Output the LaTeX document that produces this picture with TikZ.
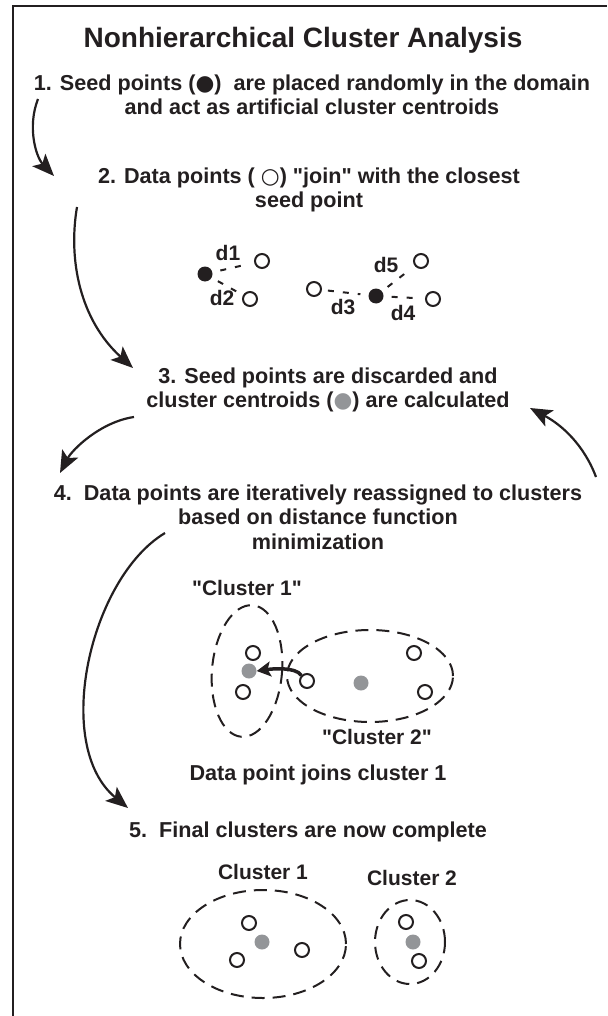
\documentclass[tikz,border=0pt]{standalone}
\usepackage{fontspec}
\setmainfont{Liberation Sans}
\newfontfamily\symfont{DejaVu Sans}
\usetikzlibrary{arrows.meta,shapes.geometric}
\definecolor{ink}{RGB}{35,31,32}
\definecolor{cgray}{RGB}{147,149,152}
\newcommand{\blk}{{\symfont\color{ink}●}}
\newcommand{\wht}{{\symfont\color{ink}○}}
\newcommand{\gry}{{\symfont\color{cgray}●}}
\newcommand{\qq}{\textquotedbl}
\begin{document}
\begin{tikzpicture}[x=1pt,y=-1pt,
  txt/.style={font=\fontsize{21.6}{24.5}\selectfont\bfseries, text=ink, align=center, inner sep=0pt},
  ttl/.style={font=\fontsize{28}{31}\selectfont\bfseries, text=ink, inner sep=0pt},
  lbl/.style={font=\fontsize{21}{24}\selectfont\bfseries, text=ink, inner sep=0pt},
  opn/.style={circle, draw=ink, line width=2pt, fill=white, minimum size=14pt, inner sep=0pt},
  sd/.style={circle, fill=ink, minimum size=15pt, inner sep=0pt},
  cen/.style={circle, fill=cgray, minimum size=15pt, inner sep=0pt},
  lnk/.style={draw=ink, line width=2pt, dash pattern=on 6pt off 9pt},
  clus/.style={ellipse, draw=ink, line width=2pt, dash pattern=on 13pt off 8pt, inner sep=0pt},
  flow/.style={draw=ink, line width=2.2pt, -{Stealth[length=22pt,width=18pt,inset=5pt]}},
  jump/.style={draw=ink, line width=3.5pt, -{Stealth[length=14pt,width=15pt,inset=3pt]}}
]
\useasboundingbox (0,0) rectangle (607,1016);
\draw[ink, line width=2.2pt] (13,1016) -- (13,6) -- (607,6);

\node[ttl] (title) at (303,40) {Nonhierarchical Cluster Analysis};
\node[txt] (s1) at (312,95) {1. Seed points (\blk)\ \ are placed randomly in the domain\\and act as artificial cluster centroids};
\node[txt] (s2) at (309,190) {2. Data points ( \wht) \qq join\qq\ with the closest\\seed point};

% seed diagram
\node[sd] (k1) at (205,274) {};
\node[opn] (p1) at (262,261) {};
\node[opn] (p2) at (250,299) {};
\node[opn] (p3) at (314,289) {};
\node[sd] (k2) at (376,296) {};
\node[opn] (p5) at (421,261) {};
\node[opn] (p4) at (433,299) {};
\node[lbl] (d1) at (228,253) {d1};
\node[lbl] (d2) at (222,298) {d2};
\node[lbl] (d3) at (343,307) {d3};
\node[lbl] (d4) at (403,313) {d4};
\node[lbl] (d5) at (386,265) {d5};
\draw[lnk, shorten <=8pt, shorten >=13pt] (k1) -- (p1);
\draw[lnk, shorten <=7pt, shorten >=6pt] (k1) -- (p2);
\draw[lnk, shorten <=6pt, shorten >=8pt] (p3) -- (k2);
\draw[lnk, shorten <=7pt, shorten >=12pt] (k2) -- (p5);
\draw[lnk, shorten <=8pt, shorten >=12pt] (k2) -- (p4);

\node[txt] (s3) at (328,390) {3. Seed points are discarded and\\cluster centroids (\gry) are calculated};
\node[txt] (s4) at (318,517) {4.\ \ Data points are iteratively reassigned to clusters\\based on distance function\\minimization};

% reassignment diagram
\node[lbl] (q1) at (247,588) {\qq Cluster 1\qq};
\node[clus, minimum width=70pt, minimum height=132pt, rotate=-5] (e1) at (247,671) {};
\node[clus, minimum width=166pt, minimum height=92pt] (e2) at (370,676) {};
\node[opn] (r1) at (253,653) {};
\node[cen] (g1) at (249,671) {};
\node[opn] (r2) at (243,692) {};
\node[opn] (r3) at (307,681) {};
\node[cen] (g2) at (361,683) {};
\node[opn] (r4) at (414,653) {};
\node[opn] (r5) at (425,692) {};
\node[lbl] (q2) at (377,737) {\qq Cluster 2\qq};
\draw[jump] (r3.north west) .. controls +(-6,-9) and +(14,-2) .. (g1.east);
\node[txt] (jn) at (318,775) {Data point joins cluster 1};

\node[txt] (s5) at (308,832) {5.\ \ Final clusters are now complete};
\node[lbl] (f1) at (263,872) {Cluster 1};
\node[lbl] (f2) at (412,878) {Cluster 2};
\node[clus, minimum width=166pt, minimum height=108pt] (fe1) at (263,944) {};
\node[clus, minimum width=70pt, minimum height=84pt] (fe2) at (410,942) {};
\node[opn] (t1) at (249,923) {};
\node[cen] (h1) at (262,942) {};
\node[opn] (t2) at (237,960) {};
\node[opn] (t3) at (302,950) {};
\node[opn] (t4) at (406,922) {};
\node[cen] (h2) at (413,942) {};
\node[opn] (t5) at (419,961) {};

% flow arrows
\coordinate (a1s) at (38,99);  \coordinate (a1e) at (54,176);
\coordinate (a2s) at (77,207); \coordinate (a2e) at (133,368);
\coordinate (a3s) at (134,417); \coordinate (a3e) at (60,473);
\coordinate (a4s) at (596,477); \coordinate (a4e) at (530,408);
\coordinate (a5s) at (165,533); \coordinate (a5e) at (128,808);
\draw[flow] (a1s) .. controls (27,127) and (36,157) .. (a1e);
\draw[flow] (a2s) .. controls (68,260) and (80,320) .. (a2e);
\draw[flow] (a3s) .. controls (100,422) and (72,450) .. (a3e);
\draw[flow] (a4s) .. controls (584,445) and (562,425) .. (a4e);
\draw[flow] (a5s) .. controls (90,578) and (52,745) .. (a5e);
\end{tikzpicture}
\end{document}
